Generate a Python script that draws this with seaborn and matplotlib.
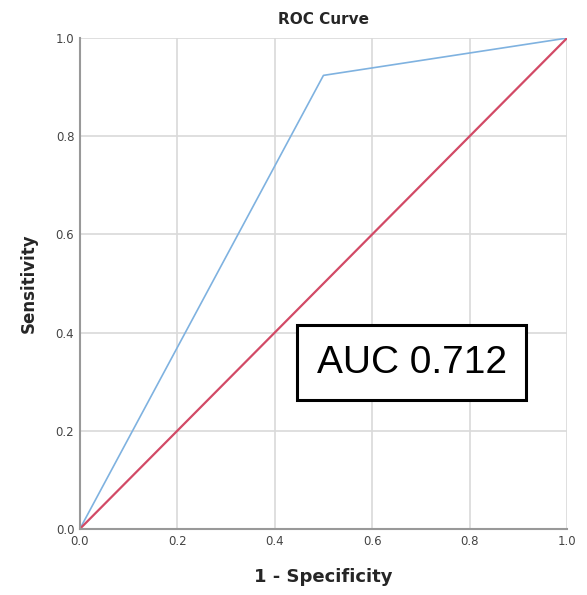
import matplotlib
matplotlib.use("Agg")
import matplotlib.pyplot as plt
import seaborn as sns
import pandas as pd

fpr = [0.0, 0.5, 1.0]
tpr = [0.0, 0.924, 1.0]
ref_x = [0.0, 1.0]
ref_y = [0.0, 1.0]
ticks = [0.0, 0.2, 0.4, 0.6, 0.8, 1.0]
auc_label = "AUC 0.712"

sns.set_style("whitegrid")
plt.rcParams['font.family'] = ['DejaVu Sans']

fig = plt.figure(figsize=(5.87, 5.95), dpi=100)
ax = fig.add_axes([0.136, 0.111, 0.830, 0.825])

sns.lineplot(x=fpr, y=tpr, ax=ax, color="#7fb2e0", linewidth=1.2, estimator=None, sort=False)
sns.lineplot(x=ref_x, y=ref_y, ax=ax, color="#d24a66", linewidth=1.6, estimator=None, sort=False)

ax.set_xlim(0, 1)
ax.set_ylim(0, 1)
ax.set_xticks(ticks)
ax.set_yticks(ticks)
ax.set_xticklabels([f"{t:.1f}" for t in ticks])
ax.set_yticklabels([f"{t:.1f}" for t in ticks])
ax.tick_params(labelsize=8.5, colors="#444444", length=0)
ax.tick_params(axis="x", pad=4)
ax.tick_params(axis="y", pad=4)
ax.grid(True, color="#d9d9d9", linewidth=1.2)
for s in ["top", "right"]:
    ax.spines[s].set_visible(False)
for s in ["left", "bottom"]:
    ax.spines[s].set_color("#999999")
    ax.spines[s].set_linewidth(1.5)

ax.set_title("ROC Curve", fontsize=11, fontweight="bold", pad=10)
ax.set_xlabel("1 - Specificity", fontsize=13, fontweight="bold", labelpad=15)
ax.set_ylabel("Sensitivity", fontsize=12, fontweight="bold", labelpad=13)

ax.text(0.681, 0.339, auc_label, transform=ax.transAxes, fontsize=28,
        family="Liberation Sans", color="black", ha="center", va="center",
        bbox=dict(boxstyle="square,pad=0.5", facecolor="white", edgecolor="black", linewidth=2.2))

fig.savefig("out.png", dpi=100)
